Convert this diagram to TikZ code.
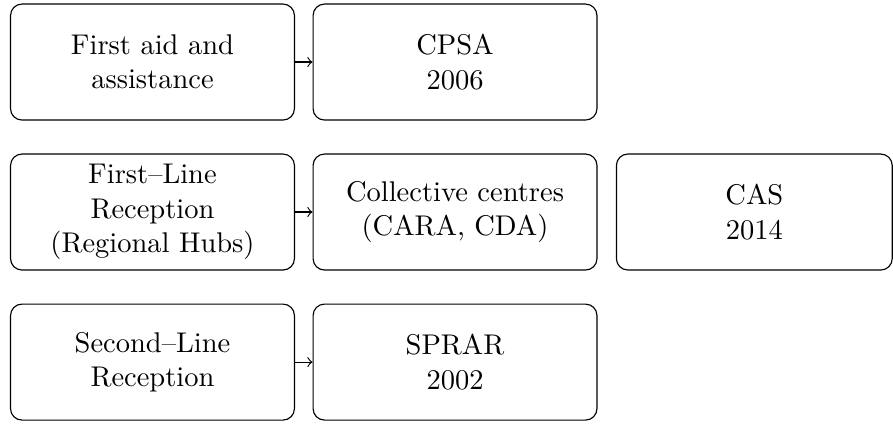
\documentclass[tikz,border=0pt]{standalone}
\usepackage{tikz}

\begin{document}
\begin{tikzpicture}
  [auto=left,every node/.style={draw,rounded corners=4pt,align=center,
   minimum width=3.5cm,minimum height=1.43cm,inner sep=0pt}]
  \useasboundingbox (0,0) rectangle (11.01,-5.24);
  \node (aid) at (1.88,-0.765) {First aid and\\assistance};
  \node (cpsa) at (5.61,-0.765) {CPSA\\2006};
  \node (first) at (1.88,-2.614) {First--Line\\Reception\\(Regional Hubs)};
  \node (centres) at (5.61,-2.614) {Collective centres\\(CARA, CDA)};
  \node[minimum width=3.4cm] (cas) at (9.30,-2.614) {CAS\\2014};
  \node (second) at (1.88,-4.464) {Second--Line\\Reception};
  \node (sprar) at (5.61,-4.464) {SPRAR\\2002};

  \foreach \from/\to in {aid/cpsa,first/centres,second/sprar}
    \draw[->] (\from) -- (\to);

\end{tikzpicture}
\end{document}
